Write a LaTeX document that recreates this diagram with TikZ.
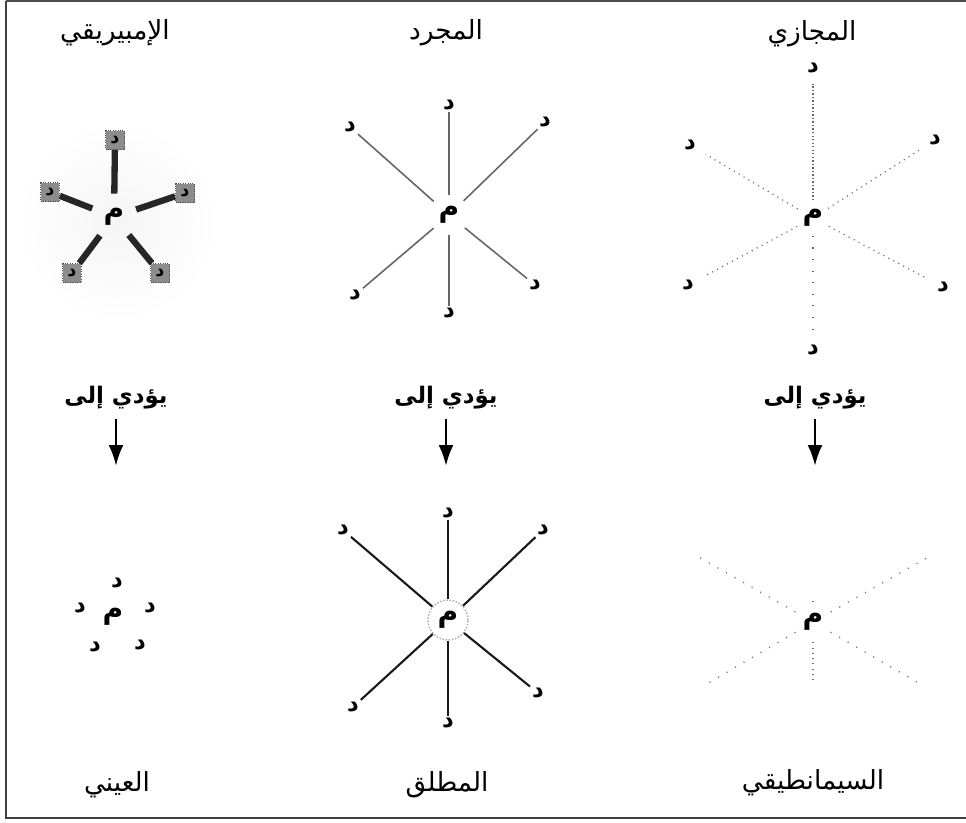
\documentclass[tikz,border=0pt]{standalone}
\usepackage{fontspec}
\usepackage{tikz}
\usetikzlibrary{arrows.meta, positioning, shapes.geometric}
\newfontfamily\arabicfont[Script=Arabic]{DejaVu Sans}
\TeXXeTstate=1
\tikzset{
  titulo/.style={font=\arabicfont\fontsize{15}{17}\selectfont, inner sep=1pt},
  lleva/.style={font=\arabicfont\bfseries\fontsize{13}{15}\selectfont, inner sep=2pt},
  nucleo/.style={circle, inner sep=0pt, minimum size=0.8cm,
                 font=\arabicfont\bfseries\fontsize{16}{16}\selectfont},
  hoja/.style={inner sep=1pt, font=\arabicfont\bfseries\fontsize{13}{13}\selectfont},
  ruido/.style={rectangle, draw=black!70, densely dotted, fill=black!45,
                minimum size=0.38cm, inner sep=0pt,
                font=\arabicfont\bfseries\fontsize{10}{10}\selectfont},
  grueso/.style={line width=3.6pt, black!85},
  radio/.style={line width=0.9pt, black!60},
  radiofuerte/.style={line width=1.2pt, black!90},
  punteado/.style={line width=0.7pt, black!60, dash pattern=on 0.6pt off 2.6pt,
                   shorten >=5pt},
  disperso/.style={line width=0.8pt, black!55, dash pattern=on 0.6pt off 5pt},
  flecha/.style={-{Latex[length=0.42cm, width=0.3cm]}, line width=1.6pt,
                 shorten <=3pt}
}
\begin{document}
\begin{tikzpicture}[x=0.02cm, y=-0.02cm]
  \useasboundingbox (0,0) rectangle (966,822);
  % marco
  \draw[black!70, line width=1.6pt] (966,1) -- (6,1);
  \draw[black!75, line width=0.9pt] (6,1) -- (6,818) -- (966,818);

  % titulos superiores
  \node[titulo] (tEmp) at (115,33) {\beginR الإمبيريقي\endR};
  \node[titulo] (tAbs) at (446,33) {\beginR المجرد\endR};
  \node[titulo] (tMet) at (812,34) {\beginR المجازي\endR};

  % estrella empirica
  \shade[inner color=black!4, outer color=white] (118,222) circle (100);
  \node[nucleo, minimum size=0.92cm] (emp) at (114,217) {\beginR م\endR};
  \node[ruido] (empT)  at (115,140) {\beginR د\endR};
  \node[ruido] (empUL) at (50,192)  {\beginR د\endR};
  \node[ruido] (empUR) at (185,193) {\beginR د\endR};
  \node[ruido] (empLL) at (72,273)  {\beginR د\endR};
  \node[ruido] (empLR) at (160,273) {\beginR د\endR};
  \draw[grueso] (emp) -- (empT);
  \draw[grueso] (emp) -- (empUL);
  \draw[grueso] (emp) -- (empUR);
  \draw[grueso] (emp) -- (empLL);
  \draw[grueso] (emp) -- (empLR);

  % estrella abstracta
  \node[nucleo] (abs) at (449,215) {\beginR م\endR};
  \node[hoja] (absT)  at (449,105) {\beginR د\endR};
  \node[hoja] (absUR) at (545,122) {\beginR د\endR};
  \node[hoja] (absUL) at (350,127) {\beginR د\endR};
  \node[hoja] (absLR) at (535,285) {\beginR د\endR};
  \node[hoja] (absB)  at (449,313) {\beginR د\endR};
  \node[hoja] (absLL) at (355,295) {\beginR د\endR};
  \draw[radio] (abs) -- (absT);
  \draw[radio] (abs) -- (absUR);
  \draw[radio] (abs) -- (absUL);
  \draw[radio] (abs) -- (absLR);
  \draw[radio] (abs) -- (absB);
  \draw[radio] (abs) -- (absLL);

  % estrella metaforica
  \node[nucleo, minimum size=0.7cm] (met) at (813,218) {\beginR م\endR};
  \node[hoja] (metT)  at (813,68)  {\beginR د\endR};
  \node[hoja] (metUR) at (935,140) {\beginR د\endR};
  \node[hoja] (metUL) at (690,145) {\beginR د\endR};
  \node[hoja] (metLL) at (688,285) {\beginR د\endR};
  \node[hoja] (metLR) at (943,287) {\beginR د\endR};
  \node[hoja] (metB)  at (813,350) {\beginR د\endR};
  \draw[punteado, dash pattern=on 0.8pt off 1.2pt] (met) -- (metT);
  \draw[punteado] (met) -- (metUR);
  \draw[punteado] (met) -- (metUL);
  \draw[punteado] (met) -- (metLL);
  \draw[punteado] (met) -- (metLR);
  \draw[punteado, dash pattern=on 0.6pt off 6pt] (met) -- (metB);

  % flechas
  \node[lleva] (lEmp) at (116,398) {\beginR يؤدي إلى\endR};
  \node[lleva] (lAbs) at (446,398) {\beginR يؤدي إلى\endR};
  \node[lleva] (lMet) at (815,398) {\beginR يؤدي إلى\endR};
  \coordinate (aEmp) at (116,466);
  \coordinate (aAbs) at (446,466);
  \coordinate (aMet) at (815,466);
  \draw[flecha] (lEmp) -- (aEmp);
  \draw[flecha] (lAbs) -- (aAbs);
  \draw[flecha] (lMet) -- (aMet);

  % racimo concreto
  \node[nucleo] (con) at (113,617) {\beginR م\endR};
  \node[hoja] (conT)  at (117,583) {\beginR د\endR};
  \node[hoja] (conR)  at (150,608) {\beginR د\endR};
  \node[hoja] (conL)  at (80,608)  {\beginR د\endR};
  \node[hoja] (conLL) at (95,647)  {\beginR د\endR};
  \node[hoja] (conLR) at (140,645) {\beginR د\endR};

  % estrella absoluta
  \node[nucleo, draw=black!35, densely dotted, line width=0.8pt] (abl) at (448,620) {\beginR م\endR};
  \node[hoja] (ablT)  at (448,513) {\beginR د\endR};
  \node[hoja] (ablUR) at (543,530) {\beginR د\endR};
  \node[hoja] (ablUL) at (343,530) {\beginR د\endR};
  \node[hoja] (ablLR) at (538,693) {\beginR د\endR};
  \node[hoja] (ablB)  at (448,723) {\beginR د\endR};
  \node[hoja] (ablLL) at (353,707) {\beginR د\endR};
  \draw[radiofuerte] (abl) -- (ablT);
  \draw[radiofuerte] (abl) -- (ablUR);
  \draw[radiofuerte] (abl) -- (ablUL);
  \draw[radiofuerte] (abl) -- (ablLR);
  \draw[radiofuerte] (abl) -- (ablB);
  \draw[radiofuerte] (abl) -- (ablLL);

  % estrella semantica
  \node[nucleo] (sem) at (813,622) {\beginR م\endR};
  \coordinate (semT)  at (813,592);
  \coordinate (semUL) at (695,555);
  \coordinate (semUR) at (932,555);
  \coordinate (semLL) at (705,685);
  \coordinate (semLR) at (922,685);
  \coordinate (semB)  at (813,682);
  \draw[disperso] (sem) -- (semT);
  \draw[disperso] (sem) -- (semUL);
  \draw[disperso] (sem) -- (semUR);
  \draw[disperso] (sem) -- (semLL);
  \draw[disperso] (sem) -- (semLR);
  \draw[disperso, dash pattern=on 0.6pt off 2.4pt] (sem) -- (semB);

  % titulos inferiores
  \node[titulo] (bCon) at (117,785) {\beginR العيني\endR};
  \node[titulo] (bAbl) at (447,785) {\beginR المطلق\endR};
  \node[titulo] (bSem) at (813,783) {\beginR السيمانطيقي\endR};
\end{tikzpicture}
\end{document}
